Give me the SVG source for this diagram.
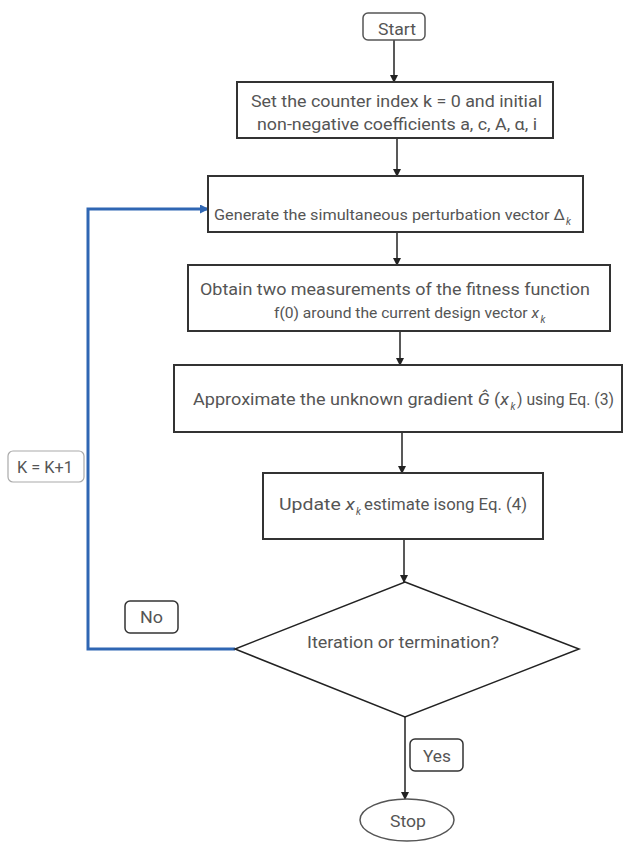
<svg xmlns="http://www.w3.org/2000/svg" width="627" height="842" viewBox="0 0 627 842">
<defs>
<style>
.box{fill:#fff;stroke:#333;stroke-width:2}
.term{fill:#fff;stroke:#555;stroke-width:1.5}
.lbl{fill:#fff;stroke:#333;stroke-width:1.5}
.lbl2{fill:#fff;stroke:#aaa;stroke-width:1.2}
.t{font-family:Roboto,"Liberation Sans",sans-serif;font-size:17px;fill:#555}
.s{font-size:15.5px}
.sub{font-family:Roboto,"Liberation Sans",sans-serif;font-size:10px;fill:#555;font-style:italic}
.it{font-style:italic}
.line{fill:none;stroke:#222;stroke-width:1.5}
.blue{fill:none;stroke:#2f66b3;stroke-width:3}
</style>
<marker id="ah" markerWidth="8" markerHeight="8" refX="7" refY="4" orient="auto" markerUnits="userSpaceOnUse">
<path d="M0,0 L8,4 L0,8 z" fill="#222"/>
</marker>
<marker id="ahb" markerWidth="9" markerHeight="9" refX="8" refY="4.5" orient="auto" markerUnits="userSpaceOnUse">
<path d="M0,0 L9,4.5 L0,9 z" fill="#2f66b3"/>
</marker>
</defs>
<rect width="627" height="842" fill="#fff"/>
<g id="connectors">
<path class="line" d="M394,40 V82" marker-end="url(#ah)"/>
<path class="line" d="M397,138 V176" marker-end="url(#ah)"/>
<path class="line" d="M397,232 V265" marker-end="url(#ah)"/>
<path class="line" d="M400,331 V365" marker-end="url(#ah)"/>
<path class="line" d="M402,432 V473" marker-end="url(#ah)"/>
<path class="line" d="M404,539 V582" marker-end="url(#ah)"/>
<path class="line" d="M405,717 V799" marker-end="url(#ah)"/>
<path class="blue" d="M235,649 H88 V209 H208" marker-end="url(#ahb)"/>
</g>
<g id="start">
<rect class="term" x="363" y="13" width="62" height="27" rx="5"/>
<text class="t" x="378" y="35" textLength="38" lengthAdjust="spacingAndGlyphs">Start</text>
</g>
<g id="init">
<rect class="box" x="237" y="82" width="316" height="56"/>
<text class="t" x="251" y="107" textLength="291" lengthAdjust="spacingAndGlyphs">Set the counter index k = 0 and initial</text>
<text class="t" x="257" y="130" textLength="280" lengthAdjust="spacingAndGlyphs">non-negative coefficients a, c, A, α, i</text>
</g>
<g id="generate">
<rect class="box" x="208" y="176" width="375" height="56"/>
<text class="t s" x="214" y="220" textLength="351" lengthAdjust="spacingAndGlyphs">Generate the simultaneous perturbation vector Δ</text>
<text class="sub" x="566" y="225">k</text>
</g>
<g id="obtain">
<rect class="box" x="188" y="265" width="422" height="66"/>
<text class="t" x="200" y="295" textLength="390" lengthAdjust="spacingAndGlyphs">Obtain two measurements of the fitness function</text>
<text class="t s" x="274" y="318" textLength="265" lengthAdjust="spacingAndGlyphs">f(0) around the current design vector <tspan class="it">x</tspan></text>
<text class="sub" x="540.5" y="323">k</text>
</g>
<g id="approximate">
<rect class="box" x="174" y="365" width="448" height="67"/>
<text class="t" x="193" y="405" textLength="316" lengthAdjust="spacingAndGlyphs">Approximate the unknown gradient <tspan class="it">Ĝ</tspan> (<tspan class="it">x</tspan></text>
<text class="sub" x="510.5" y="410">k</text>
<text class="t" x="517" y="405" textLength="97" lengthAdjust="spacingAndGlyphs">) using Eq. (3)</text>
</g>
<g id="update">
<rect class="box" x="263" y="473" width="280" height="66"/>
<text class="t" x="279" y="510" textLength="76" lengthAdjust="spacingAndGlyphs">Update <tspan class="it">x</tspan></text>
<text class="sub" x="356" y="515">k</text>
<text class="t" x="364" y="510" textLength="163" lengthAdjust="spacingAndGlyphs">estimate isong Eq. (4)</text>
</g>
<g id="decision">
<polygon class="line" style="fill:#fff" points="405,582 579,649 405,717 235,649"/>
<text class="t" x="307" y="648" textLength="192" lengthAdjust="spacingAndGlyphs">Iteration or termination?</text>
</g>
<g id="stop">
<ellipse class="term" cx="407" cy="820" rx="47" ry="21"/>
<text class="t" x="390" y="827" textLength="36" lengthAdjust="spacingAndGlyphs">Stop</text>
</g>
<g id="label-k">
<rect class="lbl2" x="8" y="451" width="76" height="31" rx="5"/>
<text class="t" x="17" y="473" textLength="56" lengthAdjust="spacingAndGlyphs">K = K+1</text>
</g>
<g id="label-no">
<rect class="lbl" x="125" y="601" width="53" height="32" rx="5"/>
<text class="t" x="140" y="623" textLength="23" lengthAdjust="spacingAndGlyphs">No</text>
</g>
<g id="label-yes">
<rect class="lbl" x="410" y="739" width="53" height="32" rx="5"/>
<text class="t" x="423" y="762" textLength="28" lengthAdjust="spacingAndGlyphs">Yes</text>
</g>
</svg>
